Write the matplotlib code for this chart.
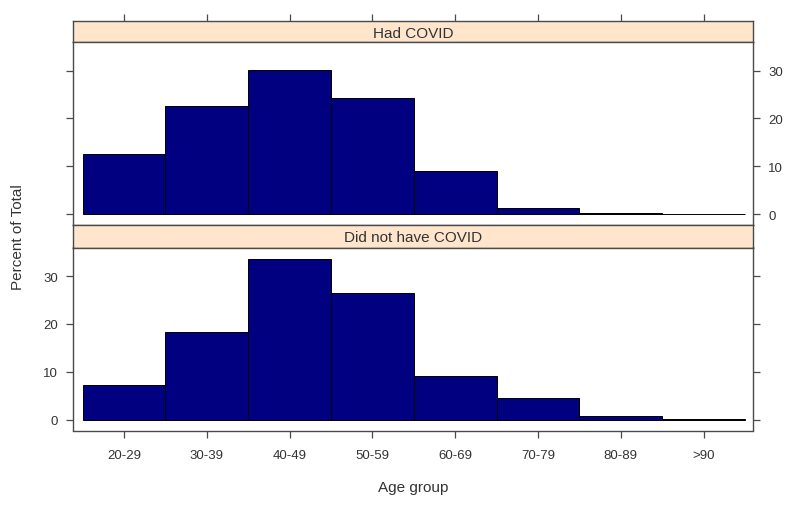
import matplotlib.pyplot as plt
import numpy as np

plt.rcParams['font.family'] = ['Liberation Sans', 'DejaVu Sans']

age_groups = ['20-29', '30-39', '40-49', '50-59', '60-69', '70-79', '80-89', '>90']
had_covid = [12.6, 22.6, 30.1, 24.2, 8.9, 1.2, 0.3, 0.05]
no_covid = [7.2, 18.3, 33.6, 26.4, 9.1, 4.5, 0.8, 0.15]
panels = ['Had COVID', 'Did not have COVID']

W, H = 794, 506
fig = plt.figure(figsize=(W / 100, H / 100), dpi=100)
fig.patch.set_facecolor('white')

frame = '#4a4a4a'
txt = '#333333'
strip_col = '#ffe5cc'
bar_col = '#000080'


def box(x0, y0, x1, y1):
    # pixel box (top-left origin) -> figure fraction
    return [x0 / W, 1 - y1 / H, (x1 - x0) / W, (y1 - y0) / H]


x = np.arange(len(age_groups))
xlim = (-0.617, 7.597)
px_l, px_r = 73, 753
layout = [(22, 43, 226, had_covid), (226, 248.5, 431.5, no_covid)]

for i, (s_top, p_top, p_bot, vals) in enumerate(layout):
    # strip
    sax = fig.add_axes(box(px_l, s_top, px_r, p_top))
    sax.set_facecolor(strip_col)
    sax.set_xlim(*xlim)
    sax.set_yticks([])
    sax.set_xticks(x)
    if i == 0:
        # top axis ticks sit above the first strip
        sax.tick_params(axis='x', bottom=False, labelbottom=False, top=True,
                        labeltop=False, length=5, width=0.9, colors=frame)
    else:
        sax.set_xticks([])
    for sp in sax.spines.values():
        sp.set_color(frame)
        sp.set_linewidth(1.0)
    sax.text(0.5, 0.45, panels[i], ha='center', va='center', fontsize=11,
             color=txt, transform=sax.transAxes)

    ax = fig.add_axes(box(px_l, p_top, px_r, p_bot))
    ax.bar(x, vals, width=1.0, color=bar_col, edgecolor='black', linewidth=0.7)
    ax.set_xlim(*xlim)
    ax.set_ylim(-2.3, 36.0)
    ax.set_yticks([0, 10, 20, 30])
    ax.set_xticks(x)
    for sp in ax.spines.values():
        sp.set_color(frame)
        sp.set_linewidth(1.0)
    ax.tick_params(colors=frame, labelcolor=txt, labelsize=9.5, length=5, width=0.9)
    if i == 0:
        ax.tick_params(axis='x', bottom=False, labelbottom=False, top=False, labeltop=False)
        ax.tick_params(axis='y', left=True, labelleft=False, right=True, labelright=True)
    else:
        ax.set_xticklabels(age_groups)
        ax.tick_params(axis='x', bottom=True, labelbottom=True, top=False, pad=8)
        ax.tick_params(axis='y', left=True, labelleft=True, right=True, labelright=False)
    ax.tick_params(axis='y', pad=6)

fig.text(18 / W, 1 - 237 / H, 'Percent of Total', rotation=90, ha='center', va='center',
         fontsize=11, color=txt)
fig.text(413 / W, 1 - 488 / H, 'Age group', ha='center', va='center',
         fontsize=11, color=txt)

fig.savefig('out.png', dpi=100)
